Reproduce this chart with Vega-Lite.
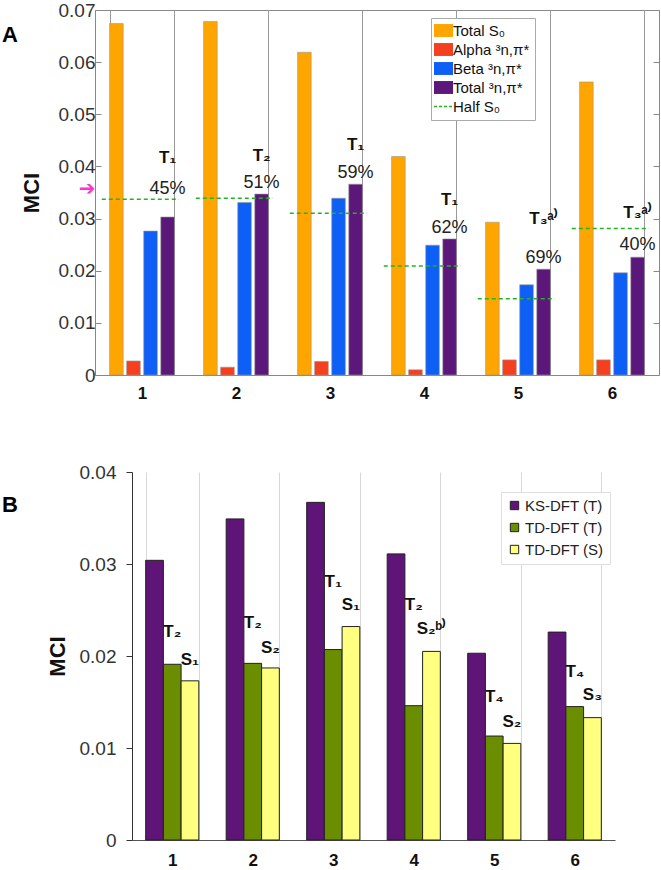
{
  "$schema": "https://vega.github.io/schema/vega-lite/v6.json",
  "padding": {"left": 1, "top": 0, "right": 0, "bottom": 0},
  "background": "white",
  "config": {
    "font": "Liberation Sans",
    "axis": {"labelFont": "Liberation Sans", "titleFont": "Liberation Sans", "labelColor": "#333", "titleColor": "#111"},
    "legend": {"labelFont": "Liberation Sans"}
  },
  "datasets": {
    "topBars": [
      {"group": "1", "series": "Total S₀", "value": 0.0674},
      {"group": "1", "series": "Alpha ³n,π*", "value": 0.0027},
      {"group": "1", "series": "Beta ³n,π*", "value": 0.0276},
      {"group": "1", "series": "Total ³n,π*", "value": 0.0303},
      {"group": "2", "series": "Total S₀", "value": 0.0678},
      {"group": "2", "series": "Alpha ³n,π*", "value": 0.0015},
      {"group": "2", "series": "Beta ³n,π*", "value": 0.0331},
      {"group": "2", "series": "Total ³n,π*", "value": 0.0347},
      {"group": "3", "series": "Total S₀", "value": 0.0619},
      {"group": "3", "series": "Alpha ³n,π*", "value": 0.0026},
      {"group": "3", "series": "Beta ³n,π*", "value": 0.0339},
      {"group": "3", "series": "Total ³n,π*", "value": 0.0366},
      {"group": "4", "series": "Total S₀", "value": 0.0419},
      {"group": "4", "series": "Alpha ³n,π*", "value": 0.0010},
      {"group": "4", "series": "Beta ³n,π*", "value": 0.0249},
      {"group": "4", "series": "Total ³n,π*", "value": 0.0261},
      {"group": "5", "series": "Total S₀", "value": 0.0293},
      {"group": "5", "series": "Alpha ³n,π*", "value": 0.0029},
      {"group": "5", "series": "Beta ³n,π*", "value": 0.0173},
      {"group": "5", "series": "Total ³n,π*", "value": 0.0203},
      {"group": "6", "series": "Total S₀", "value": 0.0562},
      {"group": "6", "series": "Alpha ³n,π*", "value": 0.0029},
      {"group": "6", "series": "Beta ³n,π*", "value": 0.0196},
      {"group": "6", "series": "Total ³n,π*", "value": 0.0226}
    ],
    "topHalf": [
      {"group": "1", "series": "Half S₀", "value": 0.0337},
      {"group": "2", "series": "Half S₀", "value": 0.0339},
      {"group": "3", "series": "Half S₀", "value": 0.0310},
      {"group": "4", "series": "Half S₀", "value": 0.0209},
      {"group": "5", "series": "Half S₀", "value": 0.0146},
      {"group": "6", "series": "Half S₀", "value": 0.0281}
    ],
    "topStates": [
      {"group": "1", "series": "Total ³n,π*", "pos": 0.0416, "label": "T₁"},
      {"group": "2", "series": "Total ³n,π*", "pos": 0.0420, "label": "T₂"},
      {"group": "3", "series": "Total ³n,π*", "pos": 0.0442, "label": "T₁"},
      {"group": "4", "series": "Total ³n,π*", "pos": 0.0335, "label": "T₁"},
      {"group": "5", "series": "Total ³n,π*", "pos": 0.0300, "label": "T₃ᵃ⁾"},
      {"group": "6", "series": "Total ³n,π*", "pos": 0.0310, "label": "T₃ᵃ⁾"}
    ],
    "topPct": [
      {"group": "1", "series": "Total ³n,π*", "pos": 0.0356, "label": "45%"},
      {"group": "2", "series": "Total ³n,π*", "pos": 0.0368, "label": "51%"},
      {"group": "3", "series": "Total ³n,π*", "pos": 0.0387, "label": "59%"},
      {"group": "4", "series": "Total ³n,π*", "pos": 0.0282, "label": "62%"},
      {"group": "5", "series": "Total ³n,π*", "pos": 0.0224, "label": "69%"},
      {"group": "6", "series": "Total ³n,π*", "pos": 0.0249, "label": "40%"}
    ],
    "topArrow": [
      {"group": "1", "pos": 0.0357, "label": "➔"}
    ],
    "bottomBars": [
      {"group": "1", "series": "KS-DFT (T)", "value": 0.0304},
      {"group": "1", "series": "TD-DFT (T)", "value": 0.0191},
      {"group": "1", "series": "TD-DFT (S)", "value": 0.0173},
      {"group": "2", "series": "KS-DFT (T)", "value": 0.0349},
      {"group": "2", "series": "TD-DFT (T)", "value": 0.0192},
      {"group": "2", "series": "TD-DFT (S)", "value": 0.0187},
      {"group": "3", "series": "KS-DFT (T)", "value": 0.0367},
      {"group": "3", "series": "TD-DFT (T)", "value": 0.0207},
      {"group": "3", "series": "TD-DFT (S)", "value": 0.0232},
      {"group": "4", "series": "KS-DFT (T)", "value": 0.0311},
      {"group": "4", "series": "TD-DFT (T)", "value": 0.0146},
      {"group": "4", "series": "TD-DFT (S)", "value": 0.0205},
      {"group": "5", "series": "KS-DFT (T)", "value": 0.0203},
      {"group": "5", "series": "TD-DFT (T)", "value": 0.0113},
      {"group": "5", "series": "TD-DFT (S)", "value": 0.0105},
      {"group": "6", "series": "KS-DFT (T)", "value": 0.0226},
      {"group": "6", "series": "TD-DFT (T)", "value": 0.0145},
      {"group": "6", "series": "TD-DFT (S)", "value": 0.0133}
    ],
    "bottomLabels": [
      {"group": "1", "series": "TD-DFT (T)", "pos": 0.0226, "label": "T₂"},
      {"group": "1", "series": "TD-DFT (S)", "pos": 0.0196, "label": "S₁"},
      {"group": "2", "series": "TD-DFT (T)", "pos": 0.0236, "label": "T₂"},
      {"group": "2", "series": "TD-DFT (S)", "pos": 0.0209, "label": "S₂"},
      {"group": "3", "series": "TD-DFT (T)", "pos": 0.0280, "label": "T₁"},
      {"group": "3", "series": "TD-DFT (S)", "pos": 0.0255, "label": "S₁"},
      {"group": "4", "series": "TD-DFT (T)", "pos": 0.0255, "label": "T₂"},
      {"group": "4", "series": "TD-DFT (S)", "pos": 0.0229, "label": "S₂ᵇ⁾"},
      {"group": "5", "series": "TD-DFT (T)", "pos": 0.0155, "label": "T₄"},
      {"group": "5", "series": "TD-DFT (S)", "pos": 0.0128, "label": "S₂"},
      {"group": "6", "series": "TD-DFT (T)", "pos": 0.0183, "label": "T₄"},
      {"group": "6", "series": "TD-DFT (S)", "pos": 0.0158, "label": "S₃"}
    ]
  },
  "resolve": {"scale": {"color": "independent", "x": "independent", "y": "independent", "xOffset": "independent"}, "legend": {"color": "independent"}},
  "spacing": 61,
  "vconcat": [
    {
      "width": 564,
      "height": 365,
      "view": {"stroke": "#888", "strokeWidth": 1},
      "title": {"text": "A", "anchor": "start", "frame": "group", "fontSize": 22, "fontWeight": "bold", "color": "#000", "offset": 0, "dx": -93, "dy": 46},
      "resolve": {"axis": {"y": "independent"}},
      "layer": [
        {
          "data": {"name": "topBars"},
          "mark": {"type": "bar", "stroke": "#999", "strokeWidth": 0.6},
          "encoding": {
            "x": {"field": "group", "type": "nominal", "sort": null,
              "scale": {"paddingInner": 0.31, "paddingOuter": 0.155},
              "axis": {"title": null, "labelAngle": 0, "labelFontSize": 17, "labelFontWeight": "bold", "labelColor": "#111", "labelPadding": 10, "ticks": false, "domain": false, "grid": true, "gridColor": "#999", "gridWidth": 1, "tickBand": "extent"}},
            "xOffset": {"field": "series", "type": "nominal", "sort": null,
              "scale": {"domain": ["Total S₀", "Alpha ³n,π*", "Beta ³n,π*", "Total ³n,π*"], "paddingInner": 0.2, "paddingOuter": 0}},
            "y": {"field": "value", "type": "quantitative",
              "scale": {"domain": [0, 0.07], "nice": false},
              "axis": {"title": "MCI", "titleFontSize": 22, "titleFontWeight": "bold", "titlePadding": 15, "labelFontSize": 19, "labelPadding": 6, "values": [0, 0.01, 0.02, 0.03, 0.04, 0.05, 0.06, 0.07], "domain": false, "grid": false, "ticks": true, "tickSize": -6, "tickColor": "#888", "format": "~g"}},
            "color": {"field": "series", "type": "nominal",
              "scale": {"domain": ["Total S₀", "Alpha ³n,π*", "Beta ³n,π*", "Total ³n,π*", "Half S₀"], "range": ["#FFA500", "#F4401E", "#0D5FF5", "#5C177A", "#22B422"]},
              "legend": {"title": null, "orient": "none", "legendX": 336, "legendY": 8, "labelFontSize": 15, "labelColor": "#111", "strokeColor": "#aaa", "fillColor": "white", "padding": 5, "rowPadding": 3, "symbolOffset": 0, "labelOffset": 2, "symbolSize": 361,
                "symbolType": {"expr": "datum.label === 'Half S₀' ? 'stroke' : 'M-1,-0.68H1V0.68H-1Z'"},
                "symbolDash": {"expr": "datum.label === 'Half S₀' ? [3, 2] : [1, 0]"},
                "symbolStrokeColor": {"expr": "datum.label === 'Half S₀' ? '#22B422' : 'transparent'"},
                "symbolStrokeWidth": {"expr": "datum.label === 'Half S₀' ? 1.5 : 0"}}}
          }
        },
        {
          "data": {"name": "topHalf"},
          "mark": {"type": "rule", "strokeDash": [4, 3], "strokeWidth": 1.5},
          "encoding": {
            "x": {"field": "group", "type": "nominal", "bandPosition": -0.12},
            "x2": {"field": "group", "bandPosition": 1.07},
            "y": {"field": "value", "type": "quantitative",
              "axis": {"orient": "right", "title": null, "labels": false, "domain": false, "grid": false, "ticks": true, "tickSize": -6, "tickColor": "#888", "values": [0, 0.01, 0.02, 0.03, 0.04, 0.05, 0.06, 0.07]}},
            "color": {"field": "series", "type": "nominal"}
          }
        },
        {
          "data": {"name": "topStates"},
          "mark": {"type": "text", "fontSize": 17, "fontWeight": "bold", "color": "#111", "baseline": "middle", "align": "center"},
          "encoding": {
            "x": {"field": "group", "type": "nominal"},
            "xOffset": {"field": "series", "type": "nominal"},
            "y": {"field": "pos", "type": "quantitative", "axis": null},
            "text": {"field": "label"}
          }
        },
        {
          "data": {"name": "topPct"},
          "mark": {"type": "text", "fontSize": 18, "color": "#222", "baseline": "middle", "align": "center"},
          "encoding": {
            "x": {"field": "group", "type": "nominal"},
            "xOffset": {"field": "series", "type": "nominal"},
            "y": {"field": "pos", "type": "quantitative", "axis": null},
            "text": {"field": "label"}
          }
        },
        {
          "data": {"name": "topArrow"},
          "mark": {"type": "text", "font": "DejaVu Sans", "fontSize": 20, "fontWeight": "bold", "color": "#FF33CC", "baseline": "middle", "align": "right", "dx": -14},
          "encoding": {
            "x": {"field": "group", "type": "nominal", "bandPosition": 0},
            "y": {"field": "pos", "type": "quantitative", "axis": null},
            "text": {"field": "label"}
          }
        }
      ]
    },
    {
      "width": 520,
      "height": 368,
      "view": {"stroke": null},
      "title": {"text": "B", "anchor": "start", "frame": "group", "fontSize": 22, "fontWeight": "bold", "color": "#000", "offset": 0, "dx": -93, "dy": 54},
      "layer": [
        {
          "data": {"name": "bottomBars"},
          "mark": {"type": "bar", "stroke": "#222", "strokeWidth": 1},
          "encoding": {
            "x": {"field": "group", "type": "nominal", "sort": null,
              "scale": {"paddingInner": 0.34, "paddingOuter": 0.17, "range": [37, 520]},
              "axis": {"title": null, "labelAngle": 0, "labelFontSize": 17, "labelFontWeight": "bold", "labelColor": "#111", "labelPadding": 12, "ticks": false, "domain": true, "domainColor": "#555", "grid": true, "gridColor": "#d8d8d8", "gridWidth": 1, "tickBand": "extent"}},
            "xOffset": {"field": "series", "type": "nominal", "sort": null,
              "scale": {"domain": ["KS-DFT (T)", "TD-DFT (T)", "TD-DFT (S)"], "paddingInner": 0, "paddingOuter": 0}},
            "y": {"field": "value", "type": "quantitative",
              "scale": {"domain": [0, 0.04], "nice": false},
              "axis": {"title": "MCI", "titleFontSize": 22, "titleFontWeight": "bold", "titlePadding": 10, "labelFontSize": 19, "labelPadding": 10, "offset": -37, "values": [0, 0.01, 0.02, 0.03, 0.04], "domain": true, "domainColor": "#333", "grid": false, "ticks": true, "tickSize": 6, "tickColor": "#333", "format": "~g"}},
            "color": {"field": "series", "type": "nominal",
              "scale": {"domain": ["KS-DFT (T)", "TD-DFT (T)", "TD-DFT (S)"], "range": ["#5F1478", "#6B8E00", "#FFFF80"]},
              "legend": {"title": null, "orient": "none", "legendX": 406, "legendY": 20, "labelFontSize": 15, "labelColor": "#222", "strokeColor": "#ddd", "fillColor": "white", "padding": 6, "rowPadding": 6, "symbolType": "square", "symbolSize": 70, "symbolStrokeColor": "#222", "symbolStrokeWidth": 1, "labelOffset": 3}}
          }
        },
        {
          "data": {"name": "bottomLabels"},
          "mark": {"type": "text", "fontSize": 17, "fontWeight": "bold", "color": "#111", "baseline": "middle", "align": "center"},
          "encoding": {
            "x": {"field": "group", "type": "nominal"},
            "xOffset": {"field": "series", "type": "nominal"},
            "y": {"field": "pos", "type": "quantitative"},
            "text": {"field": "label"}
          }
        }
      ]
    }
  ]
}
